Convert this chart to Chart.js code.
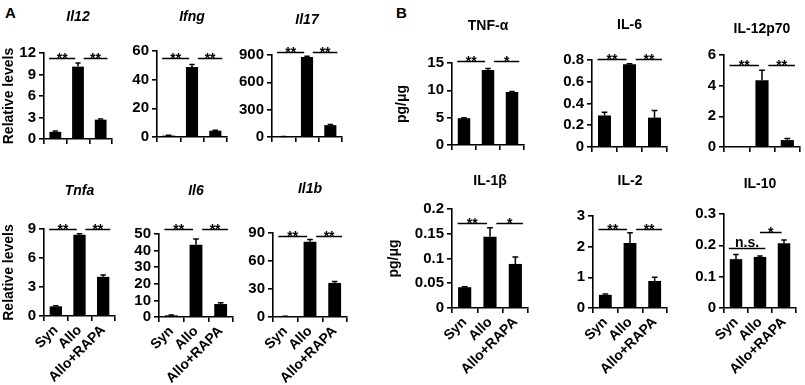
<!DOCTYPE html>
<html><head><meta charset="utf-8">
<script src="https://cdn.jsdelivr.net/npm/chart.js@4/dist/chart.umd.min.js"></script>
<style>
html,body{margin:0;padding:0;background:#fff;}
body{width:805px;height:385px;position:relative;overflow:hidden;font-family:"Liberation Sans",Arial,sans-serif;}
.pl{position:absolute;}
.letter{position:absolute;font:bold 15px "Liberation Sans",Arial,sans-serif;color:#000;}
</style></head><body>
<div class="letter" style="left:5px;top:4px">A</div>
<div class="letter" style="left:396px;top:4px">B</div>
<script>
const FONT = '"Liberation Sans", Arial, sans-serif';
const groups = ['Syn', 'Allo', 'Allo+RAPA'];

// ---- Panel A: relative mRNA levels ----
const il12Mean = [1.0, 10.1, 2.7];
const il12Err  = [0.1, 0.5, 0.1];
const il12Ticks = [0, 3, 6, 9, 12];
const il12Sig = [[0, 1, '**', 11.3], [1, 2, '**', 11.3]];

const ifngMean = [1.0, 48.8, 4.4];
const ifngErr  = [0.2, 1.8, 0.3];
const ifngTicks = [0, 20, 40, 60];
const ifngSig = [[0, 1, '**', 55], [1, 2, '**', 55]];

const il17Mean = [5, 878, 130];
const il17Err  = [1, 8, 8];
const il17Ticks = [0, 300, 600, 900];
const il17Sig = [[0, 1, '**', 930], [1, 2, '**', 930]];

const tnfaMean = [1.0, 8.4, 4.05];
const tnfaErr  = [0.05, 0.1, 0.2];
const tnfaTicks = [0, 3, 6, 9];
const tnfaSig = [[0, 1, '**', 9.05], [1, 2, '**', 9.05]];

const il6Mean = [1.0, 43.5, 7.8];
const il6Err  = [0.2, 3.5, 0.8];
const il6Ticks = [0, 10, 20, 30, 40, 50];
const il6Sig = [[0, 1, '**', 53], [1, 2, '**', 53]];

const il1bMean = [0.6, 80.5, 36.5];
const il1bErr  = [0.1, 2.5, 1.5];
const il1bTicks = [0, 30, 60, 90];
const il1bSig = [[0, 1, '**', 86.8], [1, 2, '**', 86.8]];

// ---- Panel B: protein levels (pg/μg) ----
const tnfAlphaMean = [4.9, 13.7, 9.7];
const tnfAlphaErr  = [0.1, 0.3, 0.1];
const tnfAlphaTicks = [0, 5, 10, 15];
const tnfAlphaSig = [[0, 1, '**', 15.3], [1, 2, '*', 15.3]];

const il6pMean = [0.29, 0.76, 0.27];
const il6pErr  = [0.03, 0.005, 0.065];
const il6pTicks = [0, 0.2, 0.4, 0.6, 0.8];
const il6pSig = [[0, 1, '**', 0.81], [1, 2, '**', 0.81]];

const il12p70Mean = [0, 4.35, 0.45];
const il12p70Err  = [0, 0.65, 0.1];
const il12p70Ticks = [0, 2, 4, 6];
const il12p70Sig = [[0, 1, '**', 5.35], [1, 2, '**', 5.35]];

const il1betaMean = [0.042, 0.144, 0.089];
const il1betaErr  = [0.001, 0.018, 0.014];
const il1betaTicks = [0, 0.05, 0.1, 0.15, 0.2];
const il1betaSig = [[0, 1, '**', 0.172], [1, 2, '*', 0.172]];

const il2Mean = [0.43, 2.12, 0.88];
const il2Err  = [0.03, 0.33, 0.12];
const il2Ticks = [0, 1, 2, 3];
const il2Sig = [[0, 1, '**', 2.58], [1, 2, '**', 2.58]];

const il10Mean = [0.156, 0.163, 0.207];
const il10Err  = [0.015, 0.003, 0.01];
const il10Ticks = [0, 0.1, 0.2, 0.3];
const il10Sig = [[0, 1, 'n.s.', 0.191], [1, 2, '*', 0.243]];

const panels = [
  {title: 'Il12', italic: true, mean: il12Mean, err: il12Err, ticks: il12Ticks, sig: il12Sig},
  {title: 'Ifng', italic: true, mean: ifngMean, err: ifngErr, ticks: ifngTicks, sig: ifngSig},
  {title: 'Il17', italic: true, mean: il17Mean, err: il17Err, ticks: il17Ticks, sig: il17Sig},
  {title: 'Tnfa', italic: true, mean: tnfaMean, err: tnfaErr, ticks: tnfaTicks, sig: tnfaSig},
  {title: 'Il6', italic: true, mean: il6Mean, err: il6Err, ticks: il6Ticks, sig: il6Sig},
  {title: 'Il1b', italic: true, mean: il1bMean, err: il1bErr, ticks: il1bTicks, sig: il1bSig},
  {title: 'TNF-α', italic: false, mean: tnfAlphaMean, err: tnfAlphaErr, ticks: tnfAlphaTicks, sig: tnfAlphaSig},
  {title: 'IL-6', italic: false, mean: il6pMean, err: il6pErr, ticks: il6pTicks, sig: il6pSig},
  {title: 'IL-12p70', italic: false, mean: il12p70Mean, err: il12p70Err, ticks: il12p70Ticks, sig: il12p70Sig},
  {title: 'IL-1β', italic: false, mean: il1betaMean, err: il1betaErr, ticks: il1betaTicks, sig: il1betaSig},
  {title: 'IL-2', italic: false, mean: il2Mean, err: il2Err, ticks: il2Ticks, sig: il2Sig},
  {title: 'IL-10', italic: false, mean: il10Mean, err: il10Err, ticks: il10Ticks, sig: il10Sig}
];

// layout: plot area left/right/top/bottom, title centre y, y-axis box width,
// bracket end offsets (in category widths)
const STD_BRK = [[-0.28, -0.12], [0.25, 0.3]];
const layouts = [
  {l: 44,  r: 112, t: 53,  b: 139, ty: 18,  yw: 44, axisTitle: 'Relative levels', xLabels: false, brk: STD_BRK},
  {l: 157, r: 227, t: 51,  b: 137, ty: 18,  yw: 42, axisTitle: '', xLabels: false, brk: STD_BRK},
  {l: 272, r: 342, t: 55,  b: 137, ty: 21,  yw: 42, axisTitle: '', xLabels: false, brk: STD_BRK},
  {l: 44,  r: 115, t: 229, b: 316, ty: 192, yw: 44, axisTitle: 'Relative levels', xLabels: true, brk: STD_BRK},
  {l: 159, r: 233, t: 234, b: 317, ty: 192, yw: 42, axisTitle: '', xLabels: true, brk: STD_BRK},
  {l: 273, r: 347, t: 233, b: 317, ty: 190, yw: 42, axisTitle: '', xLabels: true, brk: STD_BRK},
  {l: 452, r: 524, t: 63,  b: 145, ty: 27,  yw: 59, axisTitle: 'pg/μg', xLabels: false, brk: STD_BRK},
  {l: 592, r: 667, t: 60,  b: 147, ty: 26,  yw: 50, axisTitle: '', xLabels: false, brk: STD_BRK},
  {l: 724, r: 800, t: 55,  b: 147, ty: 30,  yw: 30, axisTitle: '', xLabels: false, brk: STD_BRK},
  {l: 452, r: 528, t: 209, b: 308, ty: 182, yw: 67, axisTitle: 'pg/μg', xLabels: true, brk: STD_BRK},
  {l: 593, r: 667, t: 216, b: 308, ty: 182, yw: 30, axisTitle: '', xLabels: true, brk: STD_BRK},
  {l: 724, r: 796, t: 214, b: 308, ty: 185, yw: 40, axisTitle: '', xLabels: true, brk: [[-0.3, 0.22], [0.0, -0.1]]}
];

function fmt(v) { return String(Number(Number(v).toFixed(3))); }

function makePanel(p, L) {
  const canvasTop = L.ty - 9;
  const padR = 8;
  const xH = L.xLabels ? 74 : 12;
  const w = L.yw + (L.r - L.l) + padR;
  const h = (L.b - canvasTop) + xH;
  const titleSize = 14, titleLH = titleSize * 1.2;
  const div = document.createElement('div');
  div.className = 'pl';
  div.style.left = (L.l - L.yw) + 'px';
  div.style.top = canvasTop + 'px';
  div.style.width = w + 'px';
  div.style.height = h + 'px';
  const cv = document.createElement('canvas');
  div.appendChild(cv);
  document.body.appendChild(div);

  const marks = {
    id: 'marks',
    afterDatasetsDraw(chart) {
      const ctx = chart.ctx, xs = chart.scales.x, ys = chart.scales.y;
      const meta = chart.getDatasetMeta(0);
      const cw = xs.getPixelForValue(1) - xs.getPixelForValue(0);
      ctx.save();
      ctx.strokeStyle = '#000';
      ctx.lineWidth = 1.5;
      // error bars (upper half)
      p.mean.forEach((m, i) => {
        const e = p.err[i];
        if (!e) return;
        const x = xs.getPixelForValue(i);
        const y0 = ys.getPixelForValue(m), y1 = ys.getPixelForValue(m + e);
        const bw = meta.data[i].width;
        ctx.beginPath();
        ctx.moveTo(x, y0); ctx.lineTo(x, y1);
        ctx.moveTo(x - bw * 0.22, y1); ctx.lineTo(x + bw * 0.22, y1);
        ctx.stroke();
      });
      // significance brackets
      p.sig.forEach(([a, b, label, v], k) => {
        const off = L.brk[k];
        const x1 = xs.getPixelForValue(a) + off[0] * cw;
        const x2 = xs.getPixelForValue(b) + off[1] * cw;
        const y = Math.round(ys.getPixelForValue(v)) + 0.5;
        ctx.beginPath();
        ctx.moveTo(x1, y); ctx.lineTo(x2, y);
        ctx.stroke();
        ctx.fillStyle = '#000';
        ctx.textAlign = 'center';
        ctx.textBaseline = 'alphabetic';
        if (label.indexOf('*') >= 0) {
          ctx.font = 'bold 14px ' + FONT;
          ctx.fillText(label, (x1 + x2) / 2, y + 4);
        } else {
          ctx.font = 'bold 14px ' + FONT;
          ctx.fillText(label, (x1 + x2) / 2, y - 2);
        }
      });
      ctx.restore();
    }
  };

  new Chart(cv, {
    type: 'bar',
    data: {
      labels: groups,
      datasets: [{data: p.mean, backgroundColor: '#000', borderWidth: 0, barPercentage: 0.52, categoryPercentage: 1}]
    },
    options: {
      responsive: true, maintainAspectRatio: false, animation: false, devicePixelRatio: 1,
      layout: {padding: {left: 0, right: padR, top: 0, bottom: 0}},
      plugins: {
        legend: {display: false},
        tooltip: {enabled: false},
        title: {
          display: true, text: p.title, fullSize: false, color: '#000',
          font: {family: FONT, size: titleSize, weight: 'bold', style: p.italic ? 'italic' : 'normal'},
          padding: {top: 0, bottom: L.t - canvasTop - titleLH}
        }
      },
      scales: {
        x: {
          type: 'category', offset: true,
          grid: {offset: true, drawOnChartArea: false, drawTicks: true, tickLength: 5, color: '#000', lineWidth: 1.6},
          border: {display: true, color: '#000', width: 1.6},
          ticks: {display: L.xLabels, autoSkip: false, maxRotation: 45, minRotation: 45, color: '#000',
                  font: {family: FONT, size: 14, weight: 'bold'}, padding: 1},
          afterFit(s) { s.height = xH; s.paddingLeft = 0; s.paddingRight = 0; }
        },
        y: {
          min: p.ticks[0], max: p.ticks[p.ticks.length - 1],
          afterBuildTicks(s) { s.ticks = p.ticks.map(v => ({value: v})); },
          grid: {drawOnChartArea: false, drawTicks: true, tickLength: 5, color: '#000', lineWidth: 1.6},
          border: {display: true, color: '#000', width: 1.6},
          ticks: {autoSkip: false, callback: v => fmt(v), color: '#000', font: {family: FONT, size: 15, weight: 'bold'}, padding: 3},
          title: {display: !!L.axisTitle, text: L.axisTitle, color: '#000',
                  font: {family: FONT, size: 14, weight: 'bold'}, padding: {top: 1, bottom: 0}},
          afterFit(s) { s.width = L.yw; s.paddingTop = 0; s.paddingBottom = 0; }
        }
      }
    },
    plugins: [marks]
  });
}

panels.forEach((p, i) => makePanel(p, layouts[i]));
</script>
</body></html>
